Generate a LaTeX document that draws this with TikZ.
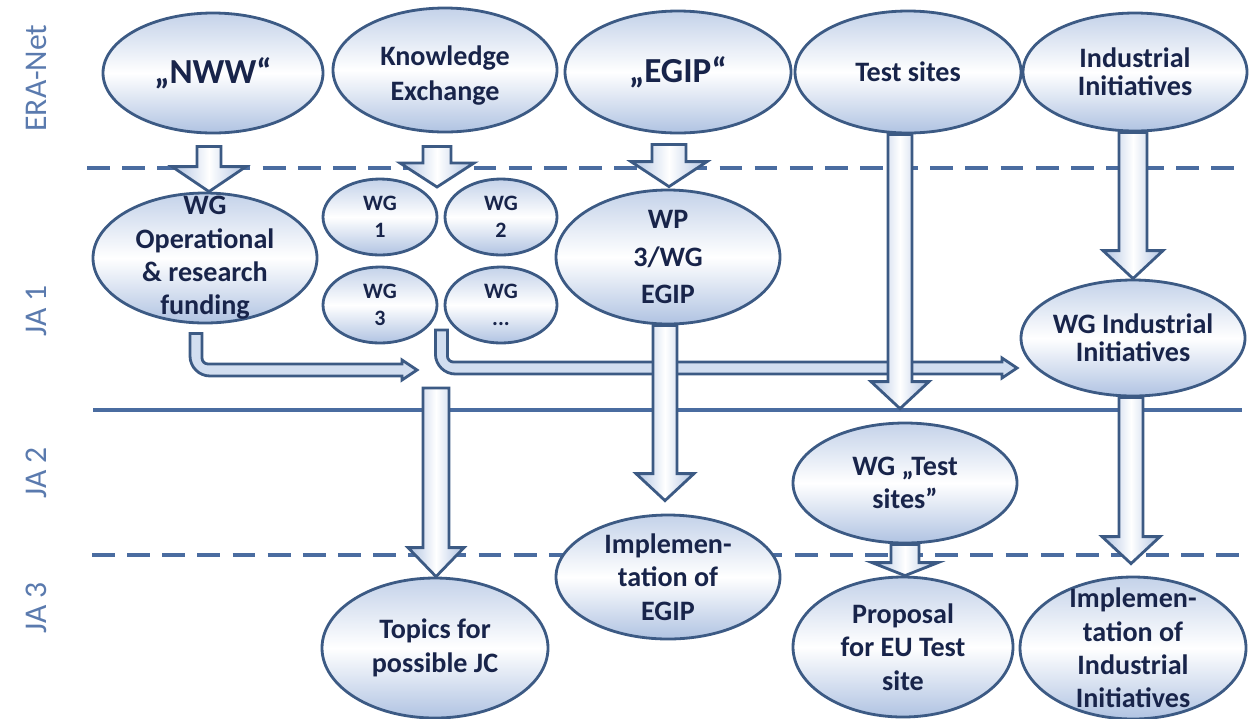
\documentclass[tikz,border=0pt]{standalone}
\usepackage{fontspec}
\setmainfont{Carlito}
\usepackage{xcolor}
\usepackage{tikz}
\usetikzlibrary{shapes.geometric, calc}

\definecolor{rimblue}{RGB}{60,90,132}
\definecolor{lineblue}{RGB}{74,108,160}
\definecolor{lightblue}{RGB}{176,195,226}
\definecolor{paleblue}{RGB}{210,222,240}
\definecolor{inkblue}{RGB}{24,36,74}
\definecolor{tagblue}{RGB}{90,122,174}

\newdimen\pxu \pxu=0.02cm

% block arrow pointing down: top point, tip point, half shaft, half head, head length (px)
\newcommand{\vblock}[5]{%
  \path[vshade] let \p1=#1, \p2=#2 in
    (\x1-#3*\pxu,\y1) -- (\x1+#3*\pxu,\y1) -- (\x1+#3*\pxu,\y2+#5*\pxu) -- (\x1+#4*\pxu,\y2+#5*\pxu)
    -- (\x1,\y2) -- (\x1-#4*\pxu,\y2+#5*\pxu) -- (\x1-#3*\pxu,\y2+#5*\pxu) -- cycle;}

% bent block arrow: down, then right
\newcommand{\bentblock}[2]{%
  \path[bshade] let \p1=#1, \p2=#2 in
    (\x1-6*\pxu,\y1) -- (\x1-6*\pxu,\y2+14*\pxu)
    .. controls (\x1-6*\pxu,\y2+3*\pxu) and (\x1+3*\pxu,\y2-6*\pxu) .. (\x1+14*\pxu,\y2-6*\pxu)
    -- (\x2-15*\pxu,\y2-6*\pxu) -- (\x2-15*\pxu,\y2-10*\pxu) -- (\x2,\y2) -- (\x2-15*\pxu,\y2+10*\pxu)
    -- (\x2-15*\pxu,\y2+6*\pxu) -- (\x1+12*\pxu,\y2+6*\pxu)
    .. controls (\x1+8.7*\pxu,\y2+6*\pxu) and (\x1+6*\pxu,\y2+8.7*\pxu) .. (\x1+6*\pxu,\y2+12*\pxu)
    -- (\x1+6*\pxu,\y1) -- cycle;}

\begin{document}
\begin{tikzpicture}[x=0.02cm, y=-0.02cm,
    bubble/.style={ellipse, draw=rimblue, line width=1.6pt, top color=lightblue!75, bottom color=lightblue, middle color=white, inner sep=0pt},
    esize/.style 2 args={minimum width=#1*0.02cm, minimum height=#2*0.02cm},
    txt/.style={text=inkblue, align=center, font=\bfseries\fontsize{16}{19}\selectfont},
    big/.style={text=inkblue, align=center, font=\bfseries\fontsize{20}{24}\selectfont},
    small/.style={text=inkblue, align=center, font=\bfseries\fontsize{12.5}{15.5}\selectfont},
    vshade/.style={draw=rimblue, line width=1.6pt, left color=lightblue, right color=lightblue, middle color=white},
    bshade/.style={draw=rimblue, line width=1.6pt, fill=paleblue},
    tag/.style={rotate=90, text=tagblue, font=\fontsize{18}{20}\selectfont},
    sep/.style={draw=lineblue, line width=2pt}]
  \useasboundingbox (0,0) rectangle (1253,718);

  \draw[sep, dash pattern=on 13pt off 7pt] (87,168) -- (1240,168);
  \draw[sep] (93,410) -- (1242,410);
  \draw[sep, dash pattern=on 13pt off 7pt] (92,555) -- (1240,555);

  \foreach \t/\y/\n in {ERA-Net/78/era, JA 1/311/jaone, JA 2/473/jatwo, JA 3/608/jathree}
    \node[tag] (\n) at (36,\y) {\t};

  % ERA-Net
  \node[bubble, esize={220}{120}, label={[big]center:„NWW“}] (nww) at (213,73) {};
  \node[bubble, esize={224}{124}, label={[txt, font=\bfseries\fontsize{16}{20}\selectfont, yshift=-3pt]center:{Knowledge\\Exchange}}] (know) at (445,70) {};
  \node[bubble, esize={226}{122}, label={[big]center:„EGIP“}] (egip) at (678,72) {};
  \node[bubble, esize={226}{122}, label={[txt]center:Test sites}] (test) at (908,72) {};
  \node[bubble, esize={224}{118}, label={[txt, font=\bfseries\fontsize{16}{16}\selectfont]center:{Industrial\\Initiatives}}] (indu) at (1135,72) {};

  % JA 1
  \node[bubble, esize={224}{130}, label={[txt]center:{WG\\Operational\\\& research\\funding}}] (fund) at (205,258) {};
  \node[bubble, esize={114}{76}, label={[small]center:{WG\\1}}] (wgone) at (380,217) {};
  \node[bubble, esize={112}{76}, label={[small]center:{WG\\2}}] (wgtwo) at (501,217) {};
  \node[bubble, esize={114}{76}, label={[small]center:{WG\\3}}] (wgthree) at (380,305) {};
  \node[bubble, esize={112}{76}, label={[small]center:{WG\\...}}] (wgmore) at (501,305) {};
  \node[bubble, esize={224}{134}, label={[txt, font=\bfseries\fontsize{16}{21.5}\selectfont]center:{WP\\3/WG\\EGIP}}] (wp) at (668,257) {};
  \node[bubble, esize={224}{116}, label={[txt, font=\bfseries\fontsize{16}{16}\selectfont]center:{WG Industrial\\Initiatives}}] (wgind) at (1133,338) {};

  % JA 2
  \node[bubble, esize={224}{120}, label={[txt]center:{WG „Test\\sites”}}] (wgtest) at (905,483) {};

  % JA 3
  \node[bubble, esize={224}{124}, label={[txt]center:{Implemen-\\tation of\\EGIP}}] (impegip) at (668,577) {};
  \node[bubble, esize={226}{140}, label={[txt]center:{Topics for\\possible JC}}] (topics) at (435,648) {};
  \node[bubble, esize={220}{140}, label={[txt]center:{Proposal\\for EU Test\\site}}] (prop) at (903,647) {};
  \node[bubble, esize={226}{142}, label={[txt]center:{Implemen-\\tation of\\Industrial\\Initiatives}}] (impind) at (1133,648) {};

  \coordinate (fundtip) at (417,370);
  \coordinate (wgtip) at (1017,368);
  \coordinate (wgsplit) at (437,187);
  \coordinate (jcstart) at (436,388);

  \bentblock{($(fund.south)+(-9,9)$)}{(fundtip)}
  \bentblock{($(wgthree.east)+(3,25)$)}{(wgtip)}

  \vblock{($(nww.south)+(-4,12)$)}{(fund.north)}{12}{37}{25}
  \vblock{($(know.south)+(-8,13)$)}{(wgsplit)}{14}{37}{24}
  \vblock{($(egip.south)+(-9,10)$)}{($(wp.north)+(0,-2)$)}{17}{38}{25}
  \vblock{($(test.south)+(-8,0)$)}{($(wgtest.north)+(0,-13)$)}{12}{29}{27}
  \vblock{($(indu.south)+(-2,0)$)}{(wgind.north)}{14}{30}{28}
  \vblock{($(wp.south)+(-3,0)$)}{($(impegip.north)+(0,-13)$)}{12}{29}{27}
  \vblock{(jcstart)}{(topics.north)}{13}{28}{29}
  \vblock{($(wgind.south)+(-2,0)$)}{($(impind.north)+(0,-12)$)}{12}{29}{27}
  \vblock{(wgtest.south)}{(prop.north)}{14}{33}{13}
\end{tikzpicture}
\end{document}
